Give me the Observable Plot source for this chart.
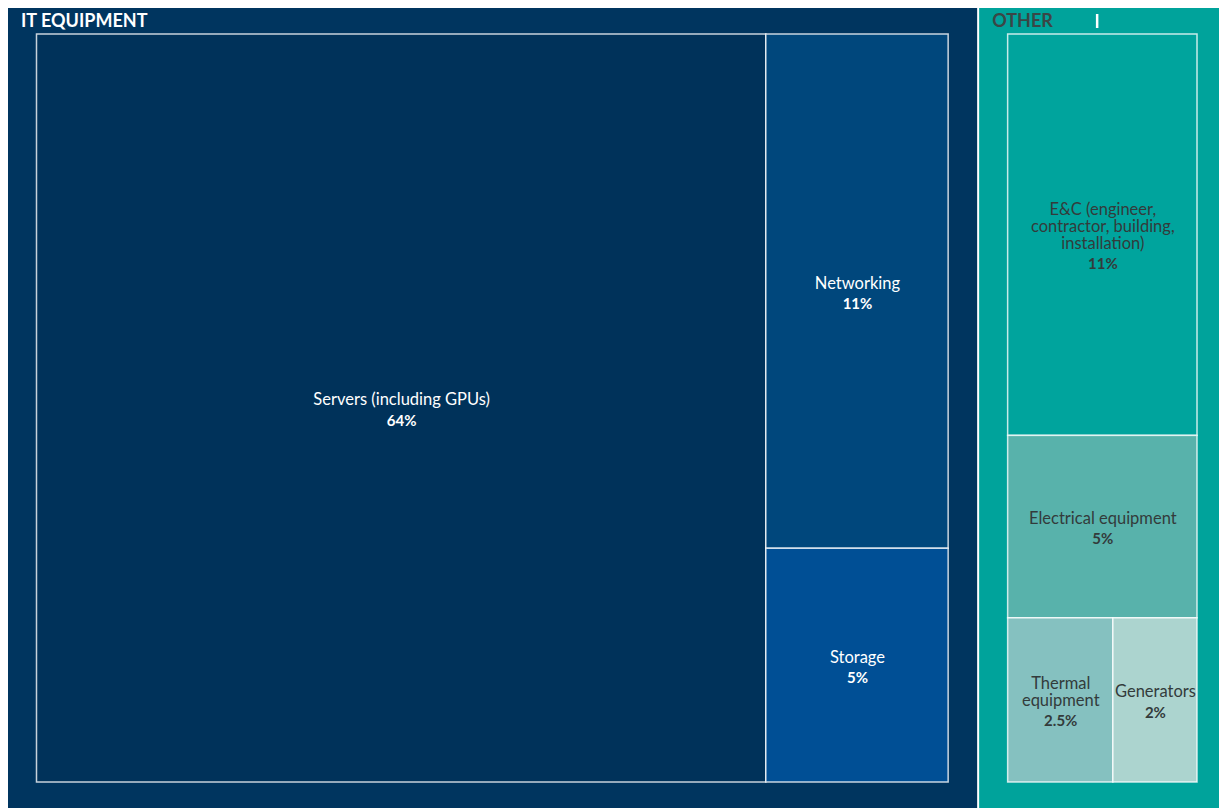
<!DOCTYPE html>
<html>
<head>
<meta charset="utf-8">
<script src="https://cdn.jsdelivr.net/npm/d3@7"></script>
<script src="https://cdn.jsdelivr.net/npm/@observablehq/plot@0.6"></script>
<style>
  html, body { margin: 0; padding: 0; background: #ffffff; }
  #chart svg { display: block; }
</style>
</head>
<body>
<div id="chart"></div>
<script>
// ---- Data ----
const groupNames = ["IT EQUIPMENT", "OTHER"];
const groupFill = ["#00355f", "#00a39b"];
const groupTitleColor = ["#ffffff", "#3a4646"];

const itemNames = [
  "Servers (including GPUs)", "Networking", "Storage",
  "E&C (engineer, contractor, building, installation)",
  "Electrical equipment", "Thermal equipment", "Generators"
];
const itemLabelLines = [
  "Servers (including GPUs)", "Networking", "Storage",
  "E&C (engineer,\ncontractor, building,\ninstallation)",
  "Electrical equipment", "Thermal\nequipment", "Generators"
];
const itemGroup = [0, 0, 0, 1, 1, 1, 1];
const itemShare = [64, 11, 5, 11, 5, 2.5, 2];
const itemShareLabel = ["64%", "11%", "5%", "11%", "5%", "2.5%", "2%"];
const itemFill = ["#00325a", "#00477c", "#004f95", "#00a49d", "#58b2ab", "#85c1c0", "#acd4cf"];
const itemTextColor = ["#ffffff", "#ffffff", "#ffffff", "#333b3b", "#333b3b", "#333b3b", "#333b3b"];

// ---- Layout (d3 treemap) ----
const W = 1219, H = 808;
const tree = {
  name: "root",
  children: groupNames.map((g, gi) => ({
    name: g, gi,
    children: itemNames.map((n, i) => ({name: n, i, value: itemShare[i]})).filter(d => itemGroup[d.i] === gi)
  }))
};
const root = d3.hierarchy(tree).sum(d => d.value || 0);
d3.treemap()
  .tile(d3.treemapBinary)
  .size([1218, 800])
  .paddingInner(d => d.depth === 0 ? 2 : 0)
  .paddingTop(d => d.depth === 1 ? 26 : 0)
  .paddingBottom(d => d.depth === 1 ? 26 : 0)
  .paddingLeft(d => d.depth === 1 ? 28.5 : 0)
  .paddingRight(d => d.depth === 1 ? 29 : 0)(root);
root.each(n => { n.x0 += 8; n.x1 += 8; n.y0 += 8; n.y1 += 8; });

const groups = root.children.map(n => ({
  name: n.data.name, gi: n.data.gi, x0: n.x0, x1: n.x1, y0: n.y0, y1: n.y1
}));
const LH = 17;
const leaves = root.leaves().map(n => {
  const i = n.data.i;
  const lines = itemLabelLines[i].split("\n").length;
  const cx = (n.x0 + n.x1) / 2, cy = (n.y0 + n.y1) / 2;
  const nameY = cy - 8.5;
  return {
    i, x0: n.x0, x1: n.x1, y0: n.y0, y1: n.y1, cx,
    nameY, valueY: nameY + (lines - 1) * LH / 2 + 21
  };
});

const chart = Plot.plot({
  width: W, height: H,
  margin: 0,
  x: {domain: [0, W], range: [0, W], axis: null},
  y: {domain: [0, H], range: [0, H], axis: null},
  style: {fontFamily: "Lato, 'Noto Sans', sans-serif", background: "transparent"},
  marks: [
    Plot.rect(groups, {x1: "x0", x2: "x1", y1: "y0", y2: "y1", fill: d => groupFill[d.gi]}),
    Plot.rect(leaves, {
      x1: "x0", x2: "x1", y1: "y0", y2: "y1",
      fill: d => itemFill[d.i], stroke: "#ffffff", strokeOpacity: 0.78, strokeWidth: 1.5
    }),
    Plot.text(groups, {
      x: d => d.x0 + 12.5, y: d => d.y0 + 12.5, text: "name",
      textAnchor: "start", fontWeight: "bold", fontSize: 18,
      fill: d => groupTitleColor[d.gi]
    }),
    // small white marker in OTHER header
    Plot.ruleX(groups.filter(d => d.gi === 1), {
      x: d => d.x0 + 117.5, y1: d => d.y0 + 6, y2: d => d.y0 + 20,
      stroke: "#ffffff", strokeWidth: 2.5
    }),
    Plot.text(leaves, {
      x: "cx", y: "nameY", text: d => itemLabelLines[d.i],
      lineAnchor: "middle", lineHeight: LH / 16.5, fontSize: 16.5,
      fill: d => itemTextColor[d.i]
    }),
    Plot.text(leaves, {
      x: "cx", y: "valueY", text: d => itemShareLabel[d.i],
      lineAnchor: "middle", fontSize: 15, fontWeight: "bold",
      fill: d => itemTextColor[d.i]
    })
  ]
});
document.getElementById("chart").append(chart);
</script>
</body>
</html>
